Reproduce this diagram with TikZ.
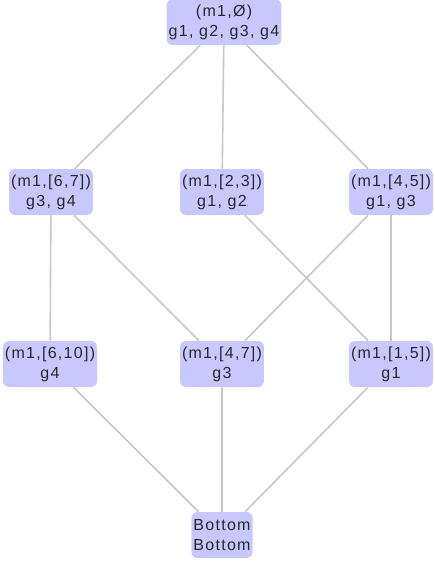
\documentclass[tikz,border=0pt]{standalone}
\usepackage{fontspec}
\setmainfont{Liberation Sans}[LetterSpace=8]
\definecolor{boxfill}{RGB}{200,200,255}
\definecolor{edgegray}{RGB}{200,200,200}
\definecolor{labeltext}{RGB}{40,40,40}

\begin{document}
\begin{tikzpicture}[x=1pt, y=-1pt, thick,
    concept/.style={fill=boxfill, rounded corners=6pt, align=center,
      inner xsep=2pt, inner ysep=3pt, minimum height=46pt,
      text=labeltext, font=\fontsize{16}{20}\selectfont},
    link/.style={draw=edgegray, line width=1.6pt}]%
  \useasboundingbox (0,0) rectangle (434,565);
  % top
  \node[concept] (top) at (224,22) {(m1,\O)\\g1, g2, g3, g4};
  % second row
  \node[concept] (a67) at (51,192) {(m1,[6,7])\\g3, g4};
  \node[concept] (a23) at (222,192) {(m1,[2,3])\\g1, g2};
  \node[concept] (a45) at (391,192) {(m1,[4,5])\\g1, g3};
  % third row
  \node[concept] (b610) at (50,364) {(m1,[6,10])\\g4};
  \node[concept] (b47) at (222,364) {(m1,[4,7])\\g3};
  \node[concept] (b15) at (391,364) {(m1,[1,5])\\g1};
  % bottom
  \node[concept] (bot) at (222,535) {Bottom\\Bottom};
  \foreach \a/\b in {top/a67, top/a23, top/a45,
    a67/b610, a67/b47, a23/b15, a45/b47, a45/b15,
    b610/bot, b47/bot, b15/bot} {
    \draw[link] (\a) -- (\b);
  }
\end{tikzpicture}
\end{document}
